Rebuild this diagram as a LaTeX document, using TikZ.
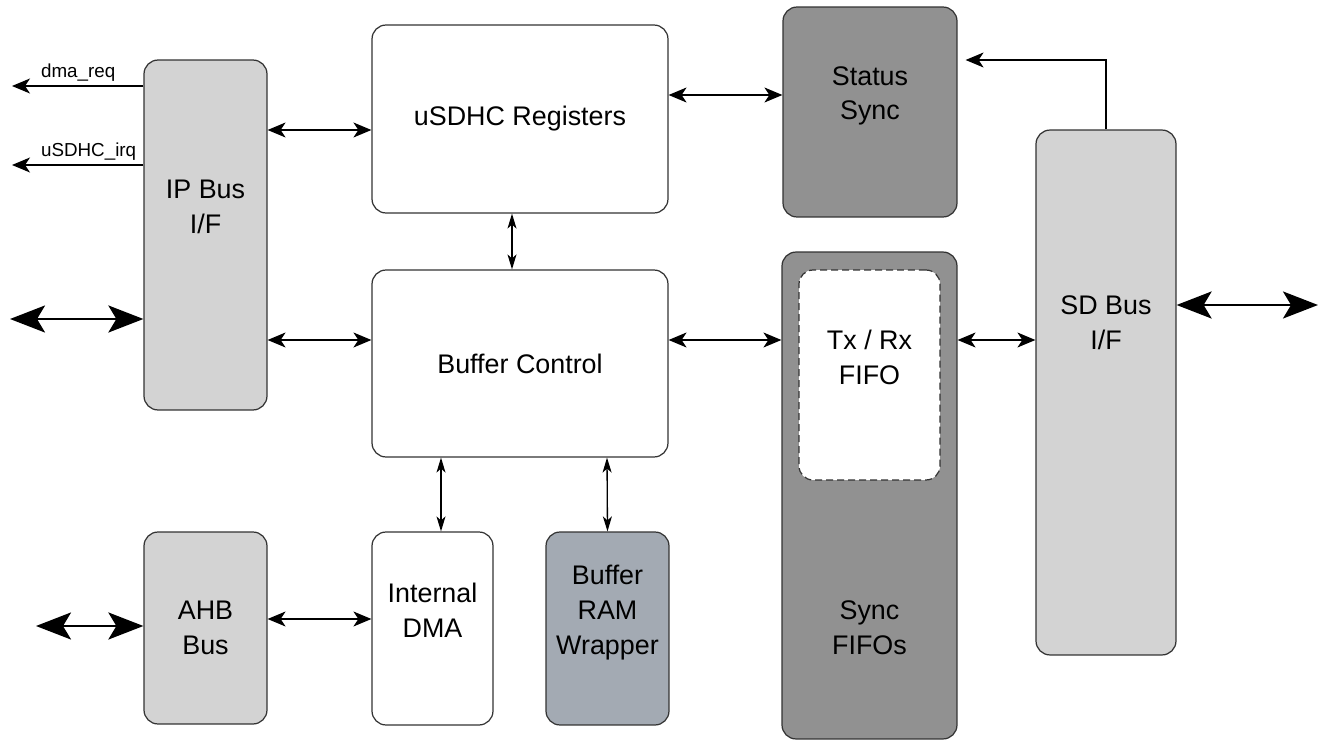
\documentclass[tikz,border=0pt]{standalone}
\usepackage{fontspec}
\setmainfont{Liberation Sans}
\usetikzlibrary{arrows.meta, positioning, calc}
\definecolor{clight}{HTML}{D3D3D3}
\definecolor{cdark}{HTML}{919191}
\definecolor{cslate}{HTML}{A3AAB3}
\definecolor{cline}{HTML}{333333}
\tikzset{
  every picture/.style={font=\fontsize{15.3}{19.8}\selectfont},
  box/.style={draw=cline, fill=#1, rounded corners=2.8mm, line width=0.7pt, align=center, inner sep=0pt},
  box/.default=white,
  txt/.style={align=center, inner sep=0pt},
  lbl/.style={inner sep=1pt, font=\fontsize{10.7}{12}\selectfont},
  tip/.style={Stealth[length=3.6mm, width=3mm, inset=1mm]},
  arrow/.style={{Stealth[length=3.6mm, width=3mm, inset=1mm]}-{Stealth[length=3.6mm, width=3mm, inset=1mm]}, line width=0.75pt},
  varrow/.style={{Stealth[length=3mm, width=1.8mm, inset=0.8mm]}-{Stealth[length=3mm, width=1.8mm, inset=0.8mm]}, line width=0.75pt},
  oneway/.style={-{Stealth[length=3.6mm, width=3mm, inset=1mm]}, line width=0.75pt},
  bus/.style={{Stealth[length=7mm, width=5.4mm, inset=1.6mm]}-{Stealth[length=7mm, width=5.4mm, inset=1.6mm]}, line width=1.5pt},
}
\begin{document}
\begin{tikzpicture}[x=0.02cm, y=-0.02cm]
  \useasboundingbox (0,0) rectangle (1320,740);
  % left column: bus interfaces
  \node[box=clight, minimum width=2.46cm, minimum height=7cm] (ipbus) at (205.5,235) {};
  \node[txt] (ipbus-t) at ([yshift=0.56cm]ipbus.center) {IP Bus\\I/F};
  \node[box=clight, minimum width=2.46cm, minimum height=3.84cm] (ahb) at (205.5,628) {AHB\\Bus};
  % middle: registers, buffer control and the two blocks below
  \node[box, minimum width=5.92cm, minimum height=3.76cm] (regs) at (520,119) {uSDHC Registers};
  \node[box, minimum width=5.92cm, minimum height=3.74cm] (bufc) at (520,363.5) {Buffer Control};
  \node[box, minimum width=2.42cm, minimum height=3.86cm] (dma) at (432.5,628.5) {};
  \node[txt] (dma-t) at ([yshift=0.36cm]dma.center) {Internal\\DMA};
  \node[box=cslate, minimum width=2.46cm, minimum height=3.86cm] (ram) at (607.5,628.5) {};
  \node[txt] (ram-t) at ([yshift=0.32cm]ram.center) {Buffer\\RAM\\Wrapper};
  % right: sync blocks and SD side
  \node[box=cdark, minimum width=3.48cm, minimum height=4.2cm] (stat) at (870,112) {};
  \node[txt] (stat-t) at ([yshift=0.32cm]stat.center) {Status\\Sync};
  \node[box=cdark, minimum width=3.5cm, minimum height=9.74cm] (syncf) at (869.5,495.5) {};
  \node[txt] (syncf-t) at ([yshift=-2.64cm]syncf.center) {Sync\\FIFOs};
  \node[box, dashed, dash pattern=on 1.4mm off 0.8mm, minimum width=2.82cm, minimum height=4.2cm] (txrx) at (869.5,375) {};
  \node[txt] (txrx-t) at ([yshift=0.36cm]txrx.center) {Tx / Rx\\FIFO};
  \node[box=clight, minimum width=2.8cm, minimum height=10.5cm] (sdbus) at (1106,392.5) {};
  \node[txt] (sdbus-t) at ([yshift=1.4cm]sdbus.center) {SD Bus\\I/F};
  % outside ends
  \coordinate (dmareq) at (12,86);
  \coordinate (irq) at (12,165);
  \coordinate (ipleft) at (10,319);
  \coordinate (ahbleft) at (36,626);
  \coordinate (sdright) at (1318,305);
  \draw[oneway] (ipbus.west |- dmareq) -- (dmareq);
  \node[lbl, anchor=south west] (dmareq-t) at ([xshift=0.54cm, yshift=0.04cm]dmareq) {dma\_req};
  \draw[oneway] (ipbus.west |- irq) -- (irq);
  \node[lbl, anchor=south west] (irq-t) at ([xshift=0.54cm, yshift=0.04cm]irq) {uSDHC\_irq};
  \draw[bus] (ipleft) -- (ipbus.west |- ipleft);
  \draw[bus] (ahbleft) -- (ahb.west |- ahbleft);
  \draw[bus] (sdbus.east |- sdright) -- (sdright);
  % links between blocks
  \draw[arrow] (ipbus.east |- 0,130) -- (regs.west |- 0,130);
  \draw[arrow] (ipbus.east |- 0,340) -- (bufc.west |- 0,340);
  \draw[varrow] (regs.south -| 512,0) -- (bufc.north -| 512,0);
  \draw[arrow] (regs.east |- 0,95) -- (stat.west |- 0,95);
  \draw[arrow] (bufc.east |- 0,340) -- (syncf.west |- 0,340);
  \draw[arrow] (syncf.east |- 0,340) -- (sdbus.west |- 0,340);
  \draw[oneway] (sdbus.north) |- ([xshift=0.16cm]stat.east |- 0,60);
  \draw[arrow] (ahb.east |- 0,619) -- (dma.west |- 0,619);
  \draw[varrow] (bufc.south -| 441,0) -- (dma.north -| 441,0);
  \draw[varrow] (bufc.south -| 607,0) -- (ram.north);
\end{tikzpicture}
\end{document}
